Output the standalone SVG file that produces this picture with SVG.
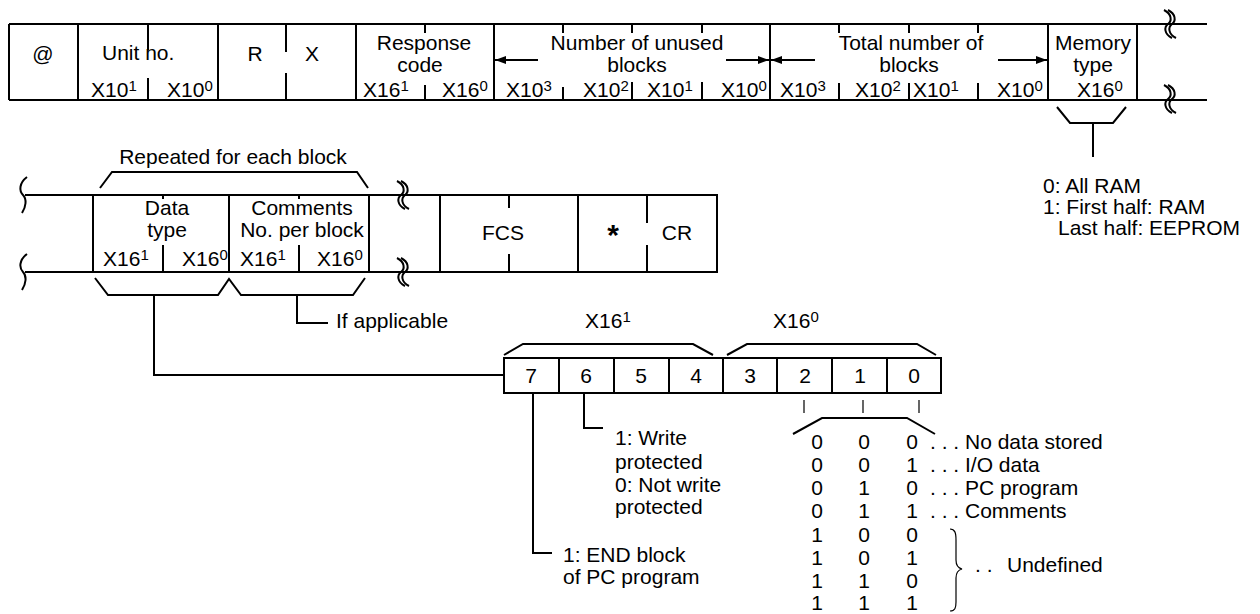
<svg xmlns="http://www.w3.org/2000/svg" width="1260" height="614" viewBox="0 0 1260 614">
<style>
text{font-family:"Liberation Sans",Arial,sans-serif;font-size:21px;fill:#000}
.m{text-anchor:middle}
.sup{font-size:15px}
.b{fill:none;stroke:#000;stroke-width:2}
.t{fill:none;stroke:#000;stroke-width:1.2}
.sq{fill:none;stroke:#000;stroke-width:2}
</style>
<defs>
<marker id="ah" markerUnits="userSpaceOnUse" markerWidth="11" markerHeight="8" refX="11" refY="4" orient="auto">
<path d="M0,0 L11,4 L0,8 z" fill="#000"/>
</marker>
<g id="brk">
<path class="sq" d="M-5,-14 C3,-10 3,-3 -1,0 C-5,3 -5,10 3,14"/>
<path class="sq" d="M-1,-14 C7,-10 7,-3 3,0 C-1,3 -1,10 7,14"/>
</g>
</defs>

<g id="top-frame">
<path class="b" d="M9,24 H1207 M9,100 H1207 M9,24 V100"/>
<path class="b" d="M78,24 V100 M218,24 V100 M356,24 V100 M494,24 V100 M770,24 V100 M1048,24 V100 M1137,24 V100"/>
<path class="b" d="M148,24 V50 M148,78 V100 M286,24 V52 M286,73 V100 M425,24 V33 M425,85 V100"/>
<path class="b" d="M563,24 V33 M563,87 V100 M632,24 V33 M632,82 V100 M702,24 V33 M702,82 V100 M839,24 V33 M839,83 V100 M909,24 V33 M909,83 V100 M978,24 V33 M978,83 V100"/>
<use href="#brk" x="1169" y="24"/>
<use href="#brk" x="1169" y="99"/>
<text class="m" x="43" y="61">@</text>
<text x="102" y="60">Unit no.</text>
<text x="91" y="97">X10<tspan class="sup" dy="-6">1</tspan></text>
<text x="167" y="97">X10<tspan class="sup" dy="-6">0</tspan></text>
<text class="m" x="255" y="61">R</text>
<text class="m" x="312" y="61">X</text>
<text class="m" x="424" y="50">Response</text>
<text class="m" x="420" y="72">code</text>
<text x="363" y="97">X16<tspan class="sup" dy="-6">1</tspan></text>
<text x="442" y="97">X16<tspan class="sup" dy="-6">0</tspan></text>
<text class="m" x="637" y="50">Number of unused</text>
<text class="m" x="637" y="72">blocks</text>
<text x="506" y="97">X10<tspan class="sup" dy="-6">3</tspan></text>
<text x="583" y="97">X10<tspan class="sup" dy="-6">2</tspan></text>
<text x="647" y="97">X10<tspan class="sup" dy="-6">1</tspan></text>
<text x="721" y="97">X10<tspan class="sup" dy="-6">0</tspan></text>
<text class="m" x="911" y="50">Total number of</text>
<text class="m" x="909" y="72">blocks</text>
<text x="780" y="97">X10<tspan class="sup" dy="-6">3</tspan></text>
<text x="855" y="97">X10<tspan class="sup" dy="-6">2</tspan></text>
<text x="913" y="97">X10<tspan class="sup" dy="-6">1</tspan></text>
<text x="997" y="97">X10<tspan class="sup" dy="-6">0</tspan></text>
<text class="m" x="1093" y="50">Memory</text>
<text class="m" x="1093" y="72">type</text>
<text x="1077" y="97">X16<tspan class="sup" dy="-6">0</tspan></text>
</g>

<g id="memory-type-note">
<path class="b" d="M1057,107 L1070,123 H1113 L1126,107 M1093,123 V157"/>
<text x="1043" y="193">0: All RAM</text>
<text x="1043" y="214">1: First half: RAM</text>
<text x="1058" y="235">Last half: EEPROM</text>
</g>

<g id="block-frame">
<path class="b" d="M27,177 C19,183 19,191 23,195 C27,199 26,207 22,213"/>
<path class="b" d="M27,254 C19,260 19,268 23,272 C27,276 26,284 22,290"/>
<path class="b" d="M25,195 H440 M25,272 H440 M93,195 V272 M229,195 V272 M369,195 V272"/>
<path class="b" d="M163,195 V199 M163,245 V272 M299,195 V199 M299,245 V272"/>
<use href="#brk" x="402" y="195"/>
<use href="#brk" x="402" y="272"/>
<path class="b" d="M100,188 L112,172 H357 L368,188"/>
<text class="m" x="233" y="164">Repeated for each block</text>
<text class="m" x="167" y="215">Data</text>
<text class="m" x="167" y="237">type</text>
<text x="103" y="266">X16<tspan class="sup" dy="-6">1</tspan></text>
<text x="182" y="266">X16<tspan class="sup" dy="-6">0</tspan></text>
<text class="m" x="302" y="215">Comments</text>
<text class="m" x="302" y="237">No. per block</text>
<text x="240" y="266">X16<tspan class="sup" dy="-6">1</tspan></text>
<text x="317" y="266">X16<tspan class="sup" dy="-6">0</tspan></text>
<path class="b" d="M95,278 L108,295 H218 L229,279 L241,295 H353 L365,278"/>
<text x="336" y="328">If applicable</text>
</g>

<g id="fcs-frame">
<path class="b" d="M440,195 H717 V272 H440 Z M578,195 V272"/>
<path class="b" d="M509,195 V208 M509,254 V272 M647,195 V223 M647,245 V272"/>
<text class="m" x="503" y="240">FCS</text>
<text class="m" x="613" y="245" style="font-size:30px;font-weight:bold">*</text>
<text class="m" x="677" y="240">CR</text>
</g>

<g id="bit-field">
<rect class="b" x="504" y="358" width="437" height="35"/>
<path class="b" d="M559,358 V393 M614,358 V393 M669,358 V393 M723,358 V393 M777,358 V393 M832,358 V393 M887,358 V393"/>
<path class="b" d="M504,355 L523,344 H693 L713,355 M727,355 L747,344 H917 L936,355"/>
<text x="585" y="328">X16<tspan class="sup" dy="-6">1</tspan></text>
<text x="773" y="328">X16<tspan class="sup" dy="-6">0</tspan></text>
<text class="m" x="531" y="383">7</text>
<text class="m" x="586" y="383">6</text>
<text class="m" x="641" y="383">5</text>
<text class="m" x="696" y="383">4</text>
<text class="m" x="750" y="383">3</text>
<text class="m" x="805" y="383">2</text>
<text class="m" x="860" y="383">1</text>
<text class="m" x="914" y="383">0</text>
</g>

<g id="connectors">
<path class="b" d="M154,295 V375 H504"/>
<path class="b" d="M297,295 V323 H328"/>
<path class="b" d="M533,393 V553 H552"/>
<path class="b" d="M584,393 V428 H603"/>
<path class="t" d="M804,400 V413 M863,400 V413 M919,400 V413"/>
<path class="b" d="M793,434 L822,418 H907 L935,434"/>
<path class="b" marker-end="url(#ah)" d="M538,60 H495"/>
<path class="b" marker-end="url(#ah)" d="M726,60 H769"/>
<path class="b" marker-end="url(#ah)" d="M815,60 H771"/>
<path class="b" marker-end="url(#ah)" d="M998,60 H1047"/>
<path class="t" d="M950,529 C955,529 956,533 956,540 V560 C956,566 958,568 962,569 C958,570 956,572 956,578 V602 C956,608 955,611 950,611"/>
</g>

<g id="bit-notes">
<text x="615" y="445">1: Write</text>
<text x="615" y="469">protected</text>
<text x="615" y="492">0: Not write</text>
<text x="615" y="514">protected</text>
<text x="563" y="562">1: END block</text>
<text x="563" y="584">of PC program</text>
</g>

<g id="data-type-table">
<text class="m" x="817" y="449">0</text><text class="m" x="864" y="449">0</text><text class="m" x="912" y="449">0</text>
<text class="m" x="817" y="472">0</text><text class="m" x="864" y="472">0</text><text class="m" x="912" y="472">1</text>
<text class="m" x="817" y="495">0</text><text class="m" x="864" y="495">1</text><text class="m" x="912" y="495">0</text>
<text class="m" x="817" y="518">0</text><text class="m" x="864" y="518">1</text><text class="m" x="912" y="518">1</text>
<text class="m" x="817" y="542">1</text><text class="m" x="864" y="542">0</text><text class="m" x="912" y="542">0</text>
<text class="m" x="817" y="565">1</text><text class="m" x="864" y="565">0</text><text class="m" x="912" y="565">1</text>
<text class="m" x="817" y="588">1</text><text class="m" x="864" y="588">1</text><text class="m" x="912" y="588">0</text>
<text class="m" x="817" y="610">1</text><text class="m" x="864" y="610">1</text><text class="m" x="912" y="610">1</text>
<text x="930" y="449" xml:space="preserve">. . . No data stored</text>
<text x="930" y="472" xml:space="preserve">. . . I/O data</text>
<text x="930" y="495" xml:space="preserve">. . . PC program</text>
<text x="930" y="518" xml:space="preserve">. . . Comments</text>
<text x="975" y="572" xml:space="preserve">. .</text>
<text x="1007" y="572">Undefined</text>
</g>
</svg>
